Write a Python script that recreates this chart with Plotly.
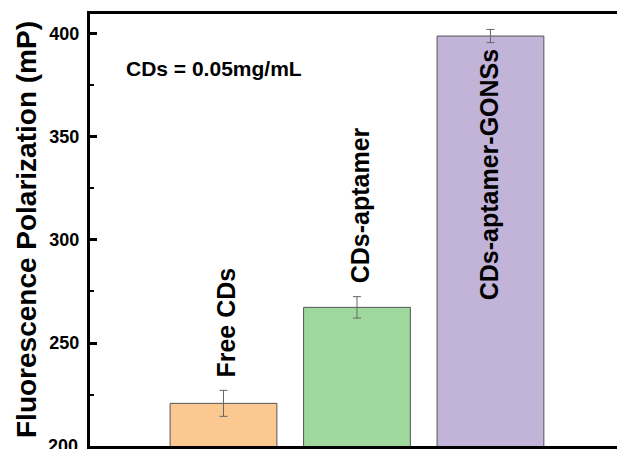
import plotly.graph_objects as go

categories = ["Free CDs", "CDs-aptamer", "CDs-aptamer-GONSs"]
values = [220.7, 267.3, 399.0]
errors = [6.3, 5.2, 3.2]
colors = ["#FCC892", "#9FD89C", "#C2B3D8"]
y_ticks = [200, 250, 300, 350, 400]

FONT = "Liberation Sans, Arial, sans-serif"
xpos = list(range(len(categories)))

L, R, T, B = 90, 0, 14, 3
W, H = 617, 449
pw, ph = W - L - R, H - T - B

fig = go.Figure()
fig.add_trace(go.Bar(
    x=xpos, y=values, width=0.8,
    marker=dict(color=colors, line=dict(color="#555555", width=1)),
    error_y=dict(type="data", array=errors, color="#666666", thickness=1, width=4),
    showlegend=False, hoverinfo="skip",
))

annotations = []
for i, (c, v, e) in enumerate(zip(categories, values, errors)):
    if i < 2:
        annotations.append(dict(x=i + 0.02, y=v + e, xref="x", yref="y", text=c, textangle=-90,
                                showarrow=False, yanchor="bottom", xanchor="center", yshift=11,
                                font=dict(family=FONT, size=25, color="black", weight="bold")))
    else:
        annotations.append(dict(x=i - 0.01, y=v - e, xref="x", yref="y", text=c, textangle=-90,
                                showarrow=False, yanchor="top", xanchor="center", yshift=-5,
                                font=dict(family=FONT, size=25, color="black", weight="bold")))
annotations.append(dict(x=(214 - L) / pw, y=(H - B - 68) / ph, xref="paper", yref="paper",
                        text="CDs = 0.05mg/mL", showarrow=False, xanchor="center", yanchor="middle",
                        font=dict(family=FONT, size=21, color="black", weight="bold")))
annotations.append(dict(x=(26 - L) / pw, y=0.5, xref="paper", yref="paper",
                        text="Fluorescence Polarization (mP)", textangle=-90, showarrow=False,
                        xanchor="center", yanchor="middle",
                        font=dict(family=FONT, size=28, color="black", weight="bold")))
# lowest tick label, partly cut by the page edge as in the reference
annotations.append(dict(x=-12, y=y_ticks[0], xref="paper", yref="y", xshift=0,
                        text=str(y_ticks[0]), showarrow=False, xanchor="right", yanchor="middle",
                        font=dict(family=FONT, size=18, color="black", weight="bold")))
annotations[-1]["x"] = (80 - L) / pw

fig.update_layout(
    width=W, height=H,
    margin=dict(l=L, r=R, t=T, b=B, autoexpand=False),
    plot_bgcolor="white", paper_bgcolor="white",
    hovermode=False,
    xaxis=dict(range=[-1, 2.948], tickvals=xpos, ticktext=["", "", ""], automargin=False,
               showline=True, linecolor="black", linewidth=3, mirror=True,
               ticks="outside", ticklen=8, tickwidth=2, tickcolor="black",
               showgrid=False, zeroline=False),
    yaxis=dict(range=[200, 409.7], tickvals=y_ticks, automargin=False,
               showline=True, linecolor="black", linewidth=3,
               ticks="inside", ticklen=7, tickwidth=2.5, tickcolor="black",
               minor=dict(ticks="inside", ticklen=4, tickwidth=2, dtick=25, tickcolor="black"),
               tickfont=dict(family=FONT, size=18, color="black", weight="bold"),
               ticklabelstandoff=4,
               showgrid=False, zeroline=False),
    font=dict(family=FONT),
    annotations=annotations,
)

fig.write_html("out.html", config={"displayModeBar": False},
               post_script="document.body.style.margin='0';document.body.style.overflow='hidden';")
